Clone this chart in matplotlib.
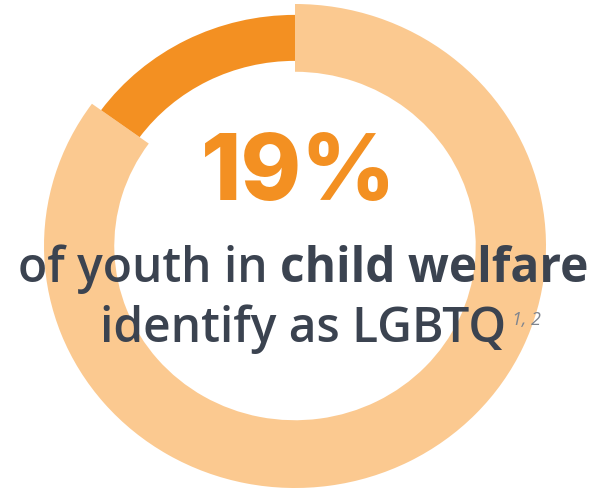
import matplotlib.pyplot as plt

# share of the ring drawn dark and the headline number
segment_labels = ["LGBTQ", "Other"]
segment_values = [15, 85]
headline = "19%"
line1_regular = "of youth in "
line1_bold = "child welfare"
line2 = "identify as LGBTQ"
footnote = "1, 2"

LIGHT = "#FBC990"
DARK = "#F39022"
TEXT = "#3B4350"

W, H = 591, 492
fig = plt.figure(figsize=(W / 100, H / 100), dpi=100)
fig.patch.set_facecolor("white")

# axes box sized to the (slightly wide) ring, centred at (295, 246) px
cx, cy = 295, 246
rx, ry = 251, 242
ax = fig.add_axes([(cx - rx) / W, (H - cy - ry) / H, 2 * rx / W, 2 * ry / H])

# light ring: everything except the dark share
ax.pie(segment_values, colors=["none", LIGHT], startangle=90, counterclock=True,
       radius=1.0, wedgeprops=dict(width=0.28, linewidth=0))
# dark arc sits a bit inside the light ring
ax.pie(segment_values, colors=[DARK, "none"], startangle=90, counterclock=True,
       radius=0.955, wedgeprops=dict(width=0.19, linewidth=0))
ax.set_aspect("auto")
ax.set_xlim(-1, 1)
ax.set_ylim(-1, 1)
ax.axis("off")

def px(x, y):
    # pixel coords (top-left origin) -> figure fraction
    return x / W, (H - y) / H

renderer = fig.canvas.get_renderer()

fig.text(*px(299, 200), headline, ha="center", va="baseline", fontsize=66,
         fontweight=800, family="Inter", color=DARK)

fs = 34.5
t1 = fig.text(*px(0, 282), line1_regular, ha="left", va="baseline", fontsize=fs,
              family="Open Sans", fontweight="semibold", color=TEXT)
t2 = fig.text(*px(0, 282), line1_bold, ha="left", va="baseline", fontsize=fs,
              family="Open Sans", fontweight="bold", color=TEXT)
w1 = t1.get_window_extent(renderer).width
w2 = t2.get_window_extent(renderer).width
start = 303 - (w1 + w2) / 2
t1.set_x(start / W)
t2.set_x((start + w1) / W)

t3 = fig.text(*px(303, 342), line2, ha="center", va="baseline", fontsize=fs,
              family="Open Sans", fontweight="semibold", color=TEXT)
b3 = t3.get_window_extent(renderer)
fig.text(b3.x1 / W + 6 / W, (H - 325) / H, footnote, ha="left", va="baseline",
         fontsize=13, style="italic", family="Open Sans", color="#80858E")

fig.savefig("out.png", dpi=100, facecolor="white")
